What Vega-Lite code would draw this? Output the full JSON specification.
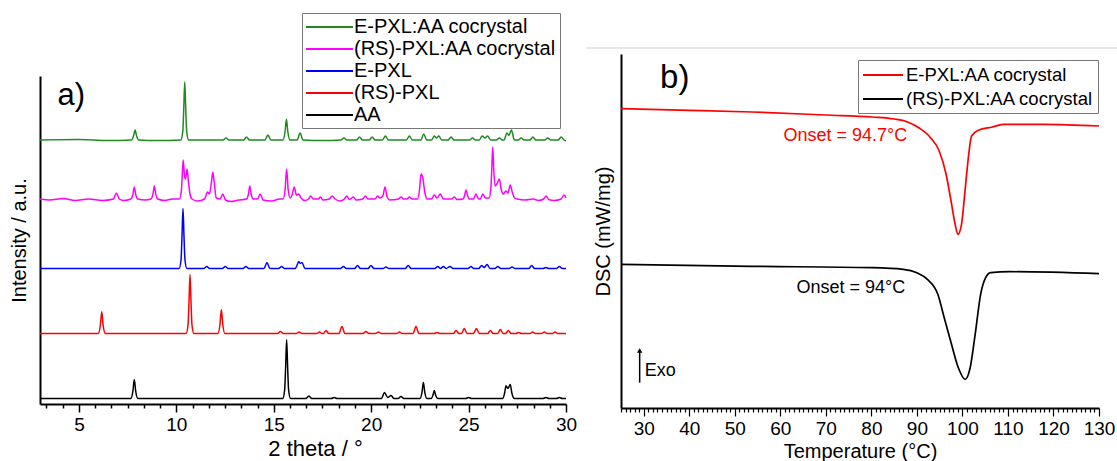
{
"$schema": "https://vega.github.io/schema/vega-lite/v6.json",
"background": "white",
"padding": {"left": 9, "top": 12, "right": 2, "bottom": 2},
"config": {"font": "Liberation Sans", "view": {"stroke": null}},
"datasets": {
"xrd": [
{"s":"AA","x":3,"y":5.5},{"s":"AA","x":7.66,"y":5.5},{"s":"AA","x":7.77,"y":13.1},{"s":"AA","x":7.84,"y":24.5},{"s":"AA","x":7.91,"y":13.1},{"s":"AA","x":8.02,"y":5.5},
{"s":"AA","x":15.46,"y":5.5},{"s":"AA","x":15.56,"y":14.3},{"s":"AA","x":15.61,"y":37.8},{"s":"AA","x":15.66,"y":64.2},{"s":"AA","x":15.71,"y":37.8},{"s":"AA","x":15.76,"y":14.3},{"s":"AA","x":15.86,"y":5.5},
{"s":"AA","x":16.65,"y":5.5},{"s":"AA","x":16.8,"y":8},{"s":"AA","x":16.95,"y":5.5},
{"s":"AA","x":17.95,"y":5.5},{"s":"AA","x":18.1,"y":6.5},{"s":"AA","x":18.25,"y":5.5},
{"s":"AA","x":20.53,"y":5.5},{"s":"AA","x":20.68,"y":11.5},{"s":"AA","x":20.85,"y":6.5},{"s":"AA","x":21.02,"y":8.5},{"s":"AA","x":21.17,"y":5.5},
{"s":"AA","x":21.38,"y":5.5},{"s":"AA","x":21.53,"y":7.5},{"s":"AA","x":21.68,"y":5.5},
{"s":"AA","x":22.5,"y":5.5},{"s":"AA","x":22.61,"y":11.9},{"s":"AA","x":22.68,"y":21.5},{"s":"AA","x":22.75,"y":11.9},{"s":"AA","x":22.86,"y":5.5},
{"s":"AA","x":23.08,"y":5.5},{"s":"AA","x":23.17,"y":8.7},{"s":"AA","x":23.24,"y":13.5},{"s":"AA","x":23.31,"y":8.7},{"s":"AA","x":23.42,"y":5.5},
{"s":"AA","x":24.85,"y":5.5},{"s":"AA","x":25,"y":6.5},{"s":"AA","x":25.15,"y":5.5},
{"s":"AA","x":26.75,"y":5.5},{"s":"AA","x":26.85,"y":11},{"s":"AA","x":26.92,"y":18.2},{"s":"AA","x":27.02,"y":15.5},{"s":"AA","x":27.14,"y":19.5},{"s":"AA","x":27.22,"y":11},{"s":"AA","x":27.35,"y":5.5},
{"s":"AA","x":28.82,"y":5.5},{"s":"AA","x":28.97,"y":6.5},{"s":"AA","x":29.12,"y":5.5},
{"s":"AA","x":29.51,"y":5.5},{"s":"AA","x":29.66,"y":6.5},{"s":"AA","x":29.81,"y":5.5},{"s":"AA","x":30,"y":5.5},

{"s":"(RS)-PXL","x":3,"y":70.5},
{"s":"(RS)-PXL","x":5.99,"y":70.5},{"s":"(RS)-PXL","x":6.1,"y":79.2},{"s":"(RS)-PXL","x":6.17,"y":92.2},{"s":"(RS)-PXL","x":6.24,"y":79.2},{"s":"(RS)-PXL","x":6.35,"y":70.5},
{"s":"(RS)-PXL","x":10.5,"y":70.5},{"s":"(RS)-PXL","x":10.6,"y":79.4},{"s":"(RS)-PXL","x":10.65,"y":103},{"s":"(RS)-PXL","x":10.7,"y":129.5},{"s":"(RS)-PXL","x":10.75,"y":103},{"s":"(RS)-PXL","x":10.8,"y":79.4},{"s":"(RS)-PXL","x":10.9,"y":70.5},
{"s":"(RS)-PXL","x":12.13,"y":70.5},{"s":"(RS)-PXL","x":12.24,"y":80},{"s":"(RS)-PXL","x":12.31,"y":94.2},{"s":"(RS)-PXL","x":12.38,"y":80},{"s":"(RS)-PXL","x":12.49,"y":70.5},
{"s":"(RS)-PXL","x":15.19,"y":70.5},{"s":"(RS)-PXL","x":15.34,"y":72.5},{"s":"(RS)-PXL","x":15.49,"y":70.5},
{"s":"(RS)-PXL","x":16.15,"y":70.5},{"s":"(RS)-PXL","x":16.3,"y":72},{"s":"(RS)-PXL","x":16.45,"y":70.5},
{"s":"(RS)-PXL","x":17.2,"y":70.5},{"s":"(RS)-PXL","x":17.34,"y":72},{"s":"(RS)-PXL","x":17.48,"y":70.5},
{"s":"(RS)-PXL","x":17.55,"y":70.5},{"s":"(RS)-PXL","x":17.68,"y":73.5},{"s":"(RS)-PXL","x":17.82,"y":70.5},
{"s":"(RS)-PXL","x":18.35,"y":70.5},{"s":"(RS)-PXL","x":18.5,"y":77.5},{"s":"(RS)-PXL","x":18.65,"y":70.5},
{"s":"(RS)-PXL","x":19.58,"y":70.5},{"s":"(RS)-PXL","x":19.73,"y":72.5},{"s":"(RS)-PXL","x":19.88,"y":70.5},
{"s":"(RS)-PXL","x":20.22,"y":70.5},{"s":"(RS)-PXL","x":20.37,"y":72},{"s":"(RS)-PXL","x":20.52,"y":70.5},
{"s":"(RS)-PXL","x":21.3,"y":70.5},{"s":"(RS)-PXL","x":21.45,"y":72},{"s":"(RS)-PXL","x":21.6,"y":70.5},
{"s":"(RS)-PXL","x":22.15,"y":70.5},{"s":"(RS)-PXL","x":22.3,"y":77.5},{"s":"(RS)-PXL","x":22.45,"y":70.5},
{"s":"(RS)-PXL","x":23.23,"y":70.5},{"s":"(RS)-PXL","x":23.38,"y":71.5},{"s":"(RS)-PXL","x":23.53,"y":70.5},
{"s":"(RS)-PXL","x":24.22,"y":70.5},{"s":"(RS)-PXL","x":24.36,"y":73.5},{"s":"(RS)-PXL","x":24.5,"y":70.5},
{"s":"(RS)-PXL","x":24.64,"y":70.5},{"s":"(RS)-PXL","x":24.78,"y":75.5},{"s":"(RS)-PXL","x":24.92,"y":70.5},
{"s":"(RS)-PXL","x":25.25,"y":70.5},{"s":"(RS)-PXL","x":25.4,"y":75.5},{"s":"(RS)-PXL","x":25.55,"y":70.5},
{"s":"(RS)-PXL","x":25.98,"y":70.5},{"s":"(RS)-PXL","x":26.12,"y":73.5},{"s":"(RS)-PXL","x":26.26,"y":70.5},
{"s":"(RS)-PXL","x":26.49,"y":70.5},{"s":"(RS)-PXL","x":26.63,"y":74.5},{"s":"(RS)-PXL","x":26.77,"y":70.5},
{"s":"(RS)-PXL","x":26.9,"y":70.5},{"s":"(RS)-PXL","x":27.04,"y":73.5},{"s":"(RS)-PXL","x":27.18,"y":70.5},
{"s":"(RS)-PXL","x":27.43,"y":70.5},{"s":"(RS)-PXL","x":27.57,"y":71.5},{"s":"(RS)-PXL","x":27.71,"y":70.5},
{"s":"(RS)-PXL","x":28.15,"y":70.5},{"s":"(RS)-PXL","x":28.29,"y":72},{"s":"(RS)-PXL","x":28.43,"y":70.5},
{"s":"(RS)-PXL","x":28.75,"y":70.5},{"s":"(RS)-PXL","x":28.89,"y":72},{"s":"(RS)-PXL","x":29.03,"y":70.5},
{"s":"(RS)-PXL","x":29.3,"y":70.5},{"s":"(RS)-PXL","x":29.44,"y":72},{"s":"(RS)-PXL","x":29.58,"y":70.5},{"s":"(RS)-PXL","x":30,"y":70.5},

{"s":"E-PXL","x":3,"y":135.5},
{"s":"E-PXL","x":10.14,"y":135.5},{"s":"E-PXL","x":10.24,"y":144.5},{"s":"E-PXL","x":10.29,"y":168.5},{"s":"E-PXL","x":10.34,"y":195.5},{"s":"E-PXL","x":10.39,"y":168.5},{"s":"E-PXL","x":10.44,"y":144.5},{"s":"E-PXL","x":10.54,"y":135.5},
{"s":"E-PXL","x":11.41,"y":135.5},{"s":"E-PXL","x":11.56,"y":137.5},{"s":"E-PXL","x":11.71,"y":135.5},
{"s":"E-PXL","x":12.36,"y":135.5},{"s":"E-PXL","x":12.51,"y":137.5},{"s":"E-PXL","x":12.66,"y":135.5},
{"s":"E-PXL","x":13.42,"y":135.5},{"s":"E-PXL","x":13.57,"y":137.5},{"s":"E-PXL","x":13.72,"y":135.5},
{"s":"E-PXL","x":14.5,"y":135.5},{"s":"E-PXL","x":14.65,"y":141.5},{"s":"E-PXL","x":14.8,"y":135.5},
{"s":"E-PXL","x":15.25,"y":135.5},{"s":"E-PXL","x":15.4,"y":137.5},{"s":"E-PXL","x":15.55,"y":135.5},
{"s":"E-PXL","x":16.1,"y":135.5},{"s":"E-PXL","x":16.2,"y":139},{"s":"E-PXL","x":16.28,"y":142.5},{"s":"E-PXL","x":16.36,"y":140.5},{"s":"E-PXL","x":16.45,"y":141.5},{"s":"E-PXL","x":16.6,"y":135.5},
{"s":"E-PXL","x":18.42,"y":135.5},{"s":"E-PXL","x":18.57,"y":137.5},{"s":"E-PXL","x":18.72,"y":135.5},
{"s":"E-PXL","x":19.15,"y":135.5},{"s":"E-PXL","x":19.3,"y":138.5},{"s":"E-PXL","x":19.45,"y":135.5},
{"s":"E-PXL","x":19.84,"y":135.5},{"s":"E-PXL","x":19.99,"y":138.5},{"s":"E-PXL","x":20.14,"y":135.5},
{"s":"E-PXL","x":20.61,"y":135.5},{"s":"E-PXL","x":20.76,"y":137},{"s":"E-PXL","x":20.91,"y":135.5},
{"s":"E-PXL","x":21.75,"y":135.5},{"s":"E-PXL","x":21.9,"y":138.5},{"s":"E-PXL","x":22.05,"y":135.5},
{"s":"E-PXL","x":23.27,"y":135.5},{"s":"E-PXL","x":23.42,"y":137.5},{"s":"E-PXL","x":23.56,"y":135.5},{"s":"E-PXL","x":23.7,"y":137.5},{"s":"E-PXL","x":23.85,"y":135.5},{"s":"E-PXL","x":24.05,"y":137.5},{"s":"E-PXL","x":24.2,"y":135.5},
{"s":"E-PXL","x":24.97,"y":135.5},{"s":"E-PXL","x":25.12,"y":137.5},{"s":"E-PXL","x":25.27,"y":135.5},
{"s":"E-PXL","x":25.52,"y":135.5},{"s":"E-PXL","x":25.67,"y":138.5},{"s":"E-PXL","x":25.8,"y":136.5},{"s":"E-PXL","x":25.95,"y":139.5},{"s":"E-PXL","x":26.1,"y":135.5},
{"s":"E-PXL","x":26.35,"y":135.5},{"s":"E-PXL","x":26.5,"y":137.5},{"s":"E-PXL","x":26.65,"y":135.5},
{"s":"E-PXL","x":27.08,"y":135.5},{"s":"E-PXL","x":27.23,"y":137},{"s":"E-PXL","x":27.38,"y":135.5},
{"s":"E-PXL","x":28.09,"y":135.5},{"s":"E-PXL","x":28.24,"y":138.5},{"s":"E-PXL","x":28.39,"y":135.5},
{"s":"E-PXL","x":28.82,"y":135.5},{"s":"E-PXL","x":28.97,"y":136.5},{"s":"E-PXL","x":29.12,"y":135.5},
{"s":"E-PXL","x":29.51,"y":135.5},{"s":"E-PXL","x":29.66,"y":137.5},{"s":"E-PXL","x":29.81,"y":135.5},{"s":"E-PXL","x":30,"y":135.5},

{"s":"(RS)-PXL:AA cocrystal","x":3,"y":205},{"s":"(RS)-PXL:AA cocrystal","x":3.5,"y":204},{"s":"(RS)-PXL:AA cocrystal","x":4.2,"y":205.5},{"s":"(RS)-PXL:AA cocrystal","x":4.8,"y":203.5},{"s":"(RS)-PXL:AA cocrystal","x":5.5,"y":205},{"s":"(RS)-PXL:AA cocrystal","x":6.2,"y":203.5},
{"s":"(RS)-PXL:AA cocrystal","x":6.77,"y":205},{"s":"(RS)-PXL:AA cocrystal","x":6.92,"y":211},{"s":"(RS)-PXL:AA cocrystal","x":7.07,"y":205},{"s":"(RS)-PXL:AA cocrystal","x":7.3,"y":203.5},
{"s":"(RS)-PXL:AA cocrystal","x":7.66,"y":205},{"s":"(RS)-PXL:AA cocrystal","x":7.77,"y":209.8},{"s":"(RS)-PXL:AA cocrystal","x":7.84,"y":217},{"s":"(RS)-PXL:AA cocrystal","x":7.91,"y":209.8},{"s":"(RS)-PXL:AA cocrystal","x":8.02,"y":205},{"s":"(RS)-PXL:AA cocrystal","x":8.4,"y":204},
{"s":"(RS)-PXL:AA cocrystal","x":8.69,"y":205},{"s":"(RS)-PXL:AA cocrystal","x":8.8,"y":210.2},{"s":"(RS)-PXL:AA cocrystal","x":8.87,"y":218},{"s":"(RS)-PXL:AA cocrystal","x":8.94,"y":210.2},{"s":"(RS)-PXL:AA cocrystal","x":9.05,"y":205},{"s":"(RS)-PXL:AA cocrystal","x":9.4,"y":203.5},{"s":"(RS)-PXL:AA cocrystal","x":9.8,"y":205},
{"s":"(RS)-PXL:AA cocrystal","x":10.15,"y":205},{"s":"(RS)-PXL:AA cocrystal","x":10.25,"y":212},{"s":"(RS)-PXL:AA cocrystal","x":10.3,"y":228},{"s":"(RS)-PXL:AA cocrystal","x":10.35,"y":244},{"s":"(RS)-PXL:AA cocrystal","x":10.42,"y":228},{"s":"(RS)-PXL:AA cocrystal","x":10.47,"y":225},{"s":"(RS)-PXL:AA cocrystal","x":10.55,"y":235},{"s":"(RS)-PXL:AA cocrystal","x":10.62,"y":222},{"s":"(RS)-PXL:AA cocrystal","x":10.7,"y":210},{"s":"(RS)-PXL:AA cocrystal","x":10.8,"y":205},{"s":"(RS)-PXL:AA cocrystal","x":11.1,"y":203},
{"s":"(RS)-PXL:AA cocrystal","x":11.45,"y":205},{"s":"(RS)-PXL:AA cocrystal","x":11.6,"y":212},{"s":"(RS)-PXL:AA cocrystal","x":11.7,"y":210},{"s":"(RS)-PXL:AA cocrystal","x":11.8,"y":222},{"s":"(RS)-PXL:AA cocrystal","x":11.87,"y":231.7},{"s":"(RS)-PXL:AA cocrystal","x":11.94,"y":222},{"s":"(RS)-PXL:AA cocrystal","x":12.05,"y":206},
{"s":"(RS)-PXL:AA cocrystal","x":12.25,"y":205},{"s":"(RS)-PXL:AA cocrystal","x":12.38,"y":210},{"s":"(RS)-PXL:AA cocrystal","x":12.52,"y":204},{"s":"(RS)-PXL:AA cocrystal","x":12.8,"y":202.5},{"s":"(RS)-PXL:AA cocrystal","x":13.2,"y":204},
{"s":"(RS)-PXL:AA cocrystal","x":13.6,"y":205},{"s":"(RS)-PXL:AA cocrystal","x":13.7,"y":210},{"s":"(RS)-PXL:AA cocrystal","x":13.77,"y":218},{"s":"(RS)-PXL:AA cocrystal","x":13.84,"y":210},{"s":"(RS)-PXL:AA cocrystal","x":13.95,"y":205},
{"s":"(RS)-PXL:AA cocrystal","x":14.17,"y":205},{"s":"(RS)-PXL:AA cocrystal","x":14.3,"y":210},{"s":"(RS)-PXL:AA cocrystal","x":14.45,"y":204},{"s":"(RS)-PXL:AA cocrystal","x":14.9,"y":203},{"s":"(RS)-PXL:AA cocrystal","x":15.3,"y":205},
{"s":"(RS)-PXL:AA cocrystal","x":15.48,"y":205},{"s":"(RS)-PXL:AA cocrystal","x":15.58,"y":214},{"s":"(RS)-PXL:AA cocrystal","x":15.66,"y":235},{"s":"(RS)-PXL:AA cocrystal","x":15.74,"y":214},{"s":"(RS)-PXL:AA cocrystal","x":15.84,"y":206},
{"s":"(RS)-PXL:AA cocrystal","x":15.94,"y":209},{"s":"(RS)-PXL:AA cocrystal","x":16.05,"y":217},{"s":"(RS)-PXL:AA cocrystal","x":16.16,"y":209},{"s":"(RS)-PXL:AA cocrystal","x":16.28,"y":210},{"s":"(RS)-PXL:AA cocrystal","x":16.4,"y":206},{"s":"(RS)-PXL:AA cocrystal","x":16.6,"y":203.5},
{"s":"(RS)-PXL:AA cocrystal","x":16.78,"y":205},{"s":"(RS)-PXL:AA cocrystal","x":16.9,"y":208},{"s":"(RS)-PXL:AA cocrystal","x":17.02,"y":205},
{"s":"(RS)-PXL:AA cocrystal","x":17.28,"y":205},{"s":"(RS)-PXL:AA cocrystal","x":17.4,"y":207},{"s":"(RS)-PXL:AA cocrystal","x":17.52,"y":204},
{"s":"(RS)-PXL:AA cocrystal","x":17.85,"y":205},{"s":"(RS)-PXL:AA cocrystal","x":18,"y":208},{"s":"(RS)-PXL:AA cocrystal","x":18.15,"y":205},{"s":"(RS)-PXL:AA cocrystal","x":18.4,"y":203},
{"s":"(RS)-PXL:AA cocrystal","x":18.62,"y":205},{"s":"(RS)-PXL:AA cocrystal","x":18.75,"y":208},{"s":"(RS)-PXL:AA cocrystal","x":18.88,"y":204.5},{"s":"(RS)-PXL:AA cocrystal","x":19.1,"y":207},{"s":"(RS)-PXL:AA cocrystal","x":19.22,"y":204},
{"s":"(RS)-PXL:AA cocrystal","x":19.57,"y":205},{"s":"(RS)-PXL:AA cocrystal","x":19.7,"y":208},{"s":"(RS)-PXL:AA cocrystal","x":19.83,"y":205},
{"s":"(RS)-PXL:AA cocrystal","x":20.2,"y":205},{"s":"(RS)-PXL:AA cocrystal","x":20.33,"y":208},{"s":"(RS)-PXL:AA cocrystal","x":20.45,"y":206},{"s":"(RS)-PXL:AA cocrystal","x":20.6,"y":208},{"s":"(RS)-PXL:AA cocrystal","x":20.71,"y":217},{"s":"(RS)-PXL:AA cocrystal","x":20.82,"y":207},{"s":"(RS)-PXL:AA cocrystal","x":20.95,"y":204},
{"s":"(RS)-PXL:AA cocrystal","x":21.4,"y":205},{"s":"(RS)-PXL:AA cocrystal","x":21.53,"y":207},{"s":"(RS)-PXL:AA cocrystal","x":21.66,"y":205},
{"s":"(RS)-PXL:AA cocrystal","x":21.84,"y":205},{"s":"(RS)-PXL:AA cocrystal","x":21.96,"y":207},{"s":"(RS)-PXL:AA cocrystal","x":22.1,"y":205},
{"s":"(RS)-PXL:AA cocrystal","x":22.38,"y":205},{"s":"(RS)-PXL:AA cocrystal","x":22.48,"y":214},{"s":"(RS)-PXL:AA cocrystal","x":22.56,"y":230},{"s":"(RS)-PXL:AA cocrystal","x":22.65,"y":226},{"s":"(RS)-PXL:AA cocrystal","x":22.75,"y":212},{"s":"(RS)-PXL:AA cocrystal","x":22.88,"y":205},
{"s":"(RS)-PXL:AA cocrystal","x":23.1,"y":205},{"s":"(RS)-PXL:AA cocrystal","x":23.24,"y":209},{"s":"(RS)-PXL:AA cocrystal","x":23.38,"y":206},{"s":"(RS)-PXL:AA cocrystal","x":23.55,"y":210},{"s":"(RS)-PXL:AA cocrystal","x":23.7,"y":205},
{"s":"(RS)-PXL:AA cocrystal","x":24.13,"y":205},{"s":"(RS)-PXL:AA cocrystal","x":24.27,"y":207},{"s":"(RS)-PXL:AA cocrystal","x":24.41,"y":204.5},
{"s":"(RS)-PXL:AA cocrystal","x":24.72,"y":205},{"s":"(RS)-PXL:AA cocrystal","x":24.8,"y":209},{"s":"(RS)-PXL:AA cocrystal","x":24.87,"y":214},{"s":"(RS)-PXL:AA cocrystal","x":24.94,"y":209},{"s":"(RS)-PXL:AA cocrystal","x":25.04,"y":205},
{"s":"(RS)-PXL:AA cocrystal","x":25.25,"y":205},{"s":"(RS)-PXL:AA cocrystal","x":25.38,"y":210},{"s":"(RS)-PXL:AA cocrystal","x":25.51,"y":205},
{"s":"(RS)-PXL:AA cocrystal","x":25.6,"y":205},{"s":"(RS)-PXL:AA cocrystal","x":25.73,"y":210},{"s":"(RS)-PXL:AA cocrystal","x":25.86,"y":206},
{"s":"(RS)-PXL:AA cocrystal","x":26.05,"y":206},{"s":"(RS)-PXL:AA cocrystal","x":26.14,"y":215},{"s":"(RS)-PXL:AA cocrystal","x":26.19,"y":235},{"s":"(RS)-PXL:AA cocrystal","x":26.24,"y":257},{"s":"(RS)-PXL:AA cocrystal","x":26.29,"y":235},{"s":"(RS)-PXL:AA cocrystal","x":26.36,"y":218},{"s":"(RS)-PXL:AA cocrystal","x":26.45,"y":220},{"s":"(RS)-PXL:AA cocrystal","x":26.58,"y":225},{"s":"(RS)-PXL:AA cocrystal","x":26.68,"y":214},{"s":"(RS)-PXL:AA cocrystal","x":26.78,"y":210},{"s":"(RS)-PXL:AA cocrystal","x":26.92,"y":213},{"s":"(RS)-PXL:AA cocrystal","x":27.02,"y":211},{"s":"(RS)-PXL:AA cocrystal","x":27.14,"y":219},{"s":"(RS)-PXL:AA cocrystal","x":27.24,"y":212},{"s":"(RS)-PXL:AA cocrystal","x":27.36,"y":206},{"s":"(RS)-PXL:AA cocrystal","x":27.5,"y":205},
{"s":"(RS)-PXL:AA cocrystal","x":27.9,"y":204},{"s":"(RS)-PXL:AA cocrystal","x":28.3,"y":205},{"s":"(RS)-PXL:AA cocrystal","x":28.6,"y":203.5},
{"s":"(RS)-PXL:AA cocrystal","x":28.85,"y":205},{"s":"(RS)-PXL:AA cocrystal","x":28.98,"y":208},{"s":"(RS)-PXL:AA cocrystal","x":29.11,"y":204.5},{"s":"(RS)-PXL:AA cocrystal","x":29.4,"y":203.5},
{"s":"(RS)-PXL:AA cocrystal","x":29.75,"y":205},{"s":"(RS)-PXL:AA cocrystal","x":29.9,"y":209},{"s":"(RS)-PXL:AA cocrystal","x":30,"y":206},

{"s":"E-PXL:AA cocrystal","x":3,"y":264},{"s":"E-PXL:AA cocrystal","x":5,"y":264.5},{"s":"E-PXL:AA cocrystal","x":6.5,"y":263.5},
{"s":"E-PXL:AA cocrystal","x":7.7,"y":264},{"s":"E-PXL:AA cocrystal","x":7.8,"y":268},{"s":"E-PXL:AA cocrystal","x":7.88,"y":274},{"s":"E-PXL:AA cocrystal","x":7.96,"y":268},{"s":"E-PXL:AA cocrystal","x":8.06,"y":264},{"s":"E-PXL:AA cocrystal","x":9,"y":263.5},
{"s":"E-PXL:AA cocrystal","x":10.23,"y":264},{"s":"E-PXL:AA cocrystal","x":10.33,"y":272.7},{"s":"E-PXL:AA cocrystal","x":10.38,"y":295.9},{"s":"E-PXL:AA cocrystal","x":10.43,"y":322},{"s":"E-PXL:AA cocrystal","x":10.48,"y":295.9},{"s":"E-PXL:AA cocrystal","x":10.53,"y":272.7},{"s":"E-PXL:AA cocrystal","x":10.63,"y":264},
{"s":"E-PXL:AA cocrystal","x":12.4,"y":264},{"s":"E-PXL:AA cocrystal","x":12.55,"y":266},{"s":"E-PXL:AA cocrystal","x":12.7,"y":264},
{"s":"E-PXL:AA cocrystal","x":13.45,"y":264},{"s":"E-PXL:AA cocrystal","x":13.6,"y":267},{"s":"E-PXL:AA cocrystal","x":13.75,"y":264},
{"s":"E-PXL:AA cocrystal","x":14.55,"y":264},{"s":"E-PXL:AA cocrystal","x":14.7,"y":269},{"s":"E-PXL:AA cocrystal","x":14.85,"y":264},
{"s":"E-PXL:AA cocrystal","x":15.47,"y":264},{"s":"E-PXL:AA cocrystal","x":15.58,"y":272.3},{"s":"E-PXL:AA cocrystal","x":15.65,"y":284.7},{"s":"E-PXL:AA cocrystal","x":15.72,"y":272.3},{"s":"E-PXL:AA cocrystal","x":15.83,"y":264},
{"s":"E-PXL:AA cocrystal","x":16.2,"y":264},{"s":"E-PXL:AA cocrystal","x":16.35,"y":271},{"s":"E-PXL:AA cocrystal","x":16.5,"y":264},{"s":"E-PXL:AA cocrystal","x":17.5,"y":263.5},
{"s":"E-PXL:AA cocrystal","x":18.45,"y":264},{"s":"E-PXL:AA cocrystal","x":18.6,"y":266},{"s":"E-PXL:AA cocrystal","x":18.75,"y":264},
{"s":"E-PXL:AA cocrystal","x":19.25,"y":264},{"s":"E-PXL:AA cocrystal","x":19.4,"y":267},{"s":"E-PXL:AA cocrystal","x":19.55,"y":264},
{"s":"E-PXL:AA cocrystal","x":19.9,"y":264},{"s":"E-PXL:AA cocrystal","x":20.05,"y":267},{"s":"E-PXL:AA cocrystal","x":20.2,"y":264},
{"s":"E-PXL:AA cocrystal","x":20.58,"y":264},{"s":"E-PXL:AA cocrystal","x":20.73,"y":268},{"s":"E-PXL:AA cocrystal","x":20.88,"y":264},
{"s":"E-PXL:AA cocrystal","x":21.81,"y":264},{"s":"E-PXL:AA cocrystal","x":21.96,"y":268},{"s":"E-PXL:AA cocrystal","x":22.11,"y":264},
{"s":"E-PXL:AA cocrystal","x":22.55,"y":264},{"s":"E-PXL:AA cocrystal","x":22.7,"y":270},{"s":"E-PXL:AA cocrystal","x":22.85,"y":264},
{"s":"E-PXL:AA cocrystal","x":23.1,"y":264},{"s":"E-PXL:AA cocrystal","x":23.24,"y":268},{"s":"E-PXL:AA cocrystal","x":23.35,"y":266},{"s":"E-PXL:AA cocrystal","x":23.47,"y":268},{"s":"E-PXL:AA cocrystal","x":23.62,"y":264},
{"s":"E-PXL:AA cocrystal","x":23.95,"y":264},{"s":"E-PXL:AA cocrystal","x":24.1,"y":267},{"s":"E-PXL:AA cocrystal","x":24.25,"y":264},
{"s":"E-PXL:AA cocrystal","x":25.05,"y":264},{"s":"E-PXL:AA cocrystal","x":25.2,"y":266},{"s":"E-PXL:AA cocrystal","x":25.35,"y":264},
{"s":"E-PXL:AA cocrystal","x":25.55,"y":264},{"s":"E-PXL:AA cocrystal","x":25.7,"y":268},{"s":"E-PXL:AA cocrystal","x":25.84,"y":266},{"s":"E-PXL:AA cocrystal","x":25.98,"y":268},{"s":"E-PXL:AA cocrystal","x":26.13,"y":264},
{"s":"E-PXL:AA cocrystal","x":26.43,"y":264},{"s":"E-PXL:AA cocrystal","x":26.58,"y":266},{"s":"E-PXL:AA cocrystal","x":26.73,"y":264},
{"s":"E-PXL:AA cocrystal","x":26.82,"y":264},{"s":"E-PXL:AA cocrystal","x":26.97,"y":271},{"s":"E-PXL:AA cocrystal","x":27.07,"y":268.5},{"s":"E-PXL:AA cocrystal","x":27.2,"y":274},{"s":"E-PXL:AA cocrystal","x":27.35,"y":264},
{"s":"E-PXL:AA cocrystal","x":27.55,"y":264},{"s":"E-PXL:AA cocrystal","x":27.7,"y":266},{"s":"E-PXL:AA cocrystal","x":27.85,"y":264},
{"s":"E-PXL:AA cocrystal","x":28.15,"y":264},{"s":"E-PXL:AA cocrystal","x":28.3,"y":267},{"s":"E-PXL:AA cocrystal","x":28.45,"y":264},
{"s":"E-PXL:AA cocrystal","x":28.91,"y":264},{"s":"E-PXL:AA cocrystal","x":29.06,"y":266},{"s":"E-PXL:AA cocrystal","x":29.21,"y":264},
{"s":"E-PXL:AA cocrystal","x":29.6,"y":264},{"s":"E-PXL:AA cocrystal","x":29.75,"y":267},{"s":"E-PXL:AA cocrystal","x":29.9,"y":264},{"s":"E-PXL:AA cocrystal","x":30,"y":263}
],
"dsc": [
{"s":"E-PXL:AA cocrystal","t":25,"v":299.3},{"s":"E-PXL:AA cocrystal","t":40,"v":297.7},{"s":"E-PXL:AA cocrystal","t":53.8,"v":296},{"s":"E-PXL:AA cocrystal","t":70,"v":293},{"s":"E-PXL:AA cocrystal","t":80.2,"v":291},{"s":"E-PXL:AA cocrystal","t":85,"v":289},{"s":"E-PXL:AA cocrystal","t":87.8,"v":286.3},{"s":"E-PXL:AA cocrystal","t":90.4,"v":280.3},{"s":"E-PXL:AA cocrystal","t":93,"v":270.3},{"s":"E-PXL:AA cocrystal","t":94.9,"v":257},{"s":"E-PXL:AA cocrystal","t":96.4,"v":234},{"s":"E-PXL:AA cocrystal","t":97.5,"v":207},{"s":"E-PXL:AA cocrystal","t":98.4,"v":183.7},{"s":"E-PXL:AA cocrystal","t":99,"v":173.7},{"s":"E-PXL:AA cocrystal","t":99.8,"v":183.7},{"s":"E-PXL:AA cocrystal","t":100.5,"v":213.7},{"s":"E-PXL:AA cocrystal","t":101.3,"v":250.3},{"s":"E-PXL:AA cocrystal","t":102,"v":272},{"s":"E-PXL:AA cocrystal","t":103.5,"v":277.7},{"s":"E-PXL:AA cocrystal","t":106.6,"v":281},{"s":"E-PXL:AA cocrystal","t":108.9,"v":283.7},{"s":"E-PXL:AA cocrystal","t":117.9,"v":283.7},{"s":"E-PXL:AA cocrystal","t":130,"v":282},
{"s":"(RS)-PXL:AA cocrystal","t":25,"v":143.7},{"s":"(RS)-PXL:AA cocrystal","t":53.8,"v":141.7},{"s":"(RS)-PXL:AA cocrystal","t":80.2,"v":140.3},{"s":"(RS)-PXL:AA cocrystal","t":87,"v":138.7},{"s":"(RS)-PXL:AA cocrystal","t":90,"v":135.3},{"s":"(RS)-PXL:AA cocrystal","t":92.3,"v":128.7},{"s":"(RS)-PXL:AA cocrystal","t":94.6,"v":113.7},{"s":"(RS)-PXL:AA cocrystal","t":96,"v":90.3},{"s":"(RS)-PXL:AA cocrystal","t":97.6,"v":63.7},{"s":"(RS)-PXL:AA cocrystal","t":99.1,"v":40.3},{"s":"(RS)-PXL:AA cocrystal","t":100.6,"v":28.7},{"s":"(RS)-PXL:AA cocrystal","t":101.7,"v":40.3},{"s":"(RS)-PXL:AA cocrystal","t":102.8,"v":73.7},{"s":"(RS)-PXL:AA cocrystal","t":104,"v":113.7},{"s":"(RS)-PXL:AA cocrystal","t":105.1,"v":130.3},{"s":"(RS)-PXL:AA cocrystal","t":106.2,"v":135.3},{"s":"(RS)-PXL:AA cocrystal","t":110.4,"v":136.3},{"s":"(RS)-PXL:AA cocrystal","t":130,"v":134.3}
]
},
"hconcat": [
{
"width": 526, "height": 354,
"layer": [
{"data": {"name": "xrd"},
 "mark": {"type": "line", "strokeWidth": 1.5, "interpolate": "monotone"},
 "encoding": {
  "x": {"field": "x", "type": "quantitative",
   "scale": {"domain": [3, 30], "nice": false, "zero": false},
   "axis": {"title": "2 theta / °", "grid": false, "offset": -4, "tickCount": 400,
    "values": [3.3333,4.1667,5,5.8333,6.6667,7.5,8.3333,9.1667,10,10.8333,11.6667,12.5,13.3333,14.1667,15,15.8333,16.6667,17.5,18.3333,19.1667,20,20.8333,21.6667,22.5,23.3333,24.1667,25,25.8333,26.6667,27.5,28.3333,29.1667,30],
    "labelExpr": "abs(datum.value/5 - round(datum.value/5)) < 0.001 ? format(datum.value, 'd') : ''",
    "tickSize": {"condition": {"test": "abs(datum.value/5 - round(datum.value/5)) < 0.001", "value": 8}, "value": 4},
    "tickColor": "black", "tickWidth": 1.5, "domainColor": "black", "domainWidth": 2,
    "labelFontSize": 19, "labelColor": "black", "labelPadding": 3, "labelFlush": false, "labelOverlap": false,
    "titleFontSize": 22, "titleFontWeight": "normal", "titleColor": "black", "titlePadding": 4,
    "titleX": 275, "titleAlign": "center"}},
  "y": {"field": "y", "type": "quantitative",
   "scale": {"domain": [0, 328], "range": [350, 22], "nice": false, "zero": false},
   "axis": {"title": "Intensity / a.u.", "grid": false, "ticks": false, "labels": false,
    "domainColor": "black", "domainWidth": 2,
    "titleFontSize": 20, "titleFontWeight": "normal", "titleColor": "black", "titlePadding": 11}},
  "color": {"field": "s", "type": "nominal",
   "scale": {"domain": ["E-PXL:AA cocrystal", "(RS)-PXL:AA cocrystal", "E-PXL", "(RS)-PXL", "AA"],
             "range": ["#1f8a1f", "#ff00ff", "#0000ff", "#ff0000", "#000000"]},
   "legend": {"title": null, "orient": "none", "legendX": 262, "legendY": -41,
    "symbolType": "M-1,0H3.7", "symbolSize": 400, "symbolStrokeWidth": 2,
    "labelFontSize": 20, "labelColor": "black", "labelLimit": 400, "labelOffset": 27,
    "strokeColor": "#777777", "fillColor": "white", "padding": 3, "rowPadding": 1}}
 }},
{"data": {"values": [{}]},
 "mark": {"type": "text", "fontSize": 31, "align": "center", "baseline": "middle", "color": "black"},
 "encoding": {"x": {"datum": 4.6}, "y": {"datum": 308}, "text": {"value": "a)"}}}
]
},
{
"width": 478, "height": 354,
"layer": [
{"data": {"values": [{}]},
 "mark": {"type": "rule", "color": "#d0d0d0", "strokeWidth": 1.2, "clip": false},
 "encoding": {"x": {"datum": 17.3}, "x2": {"datum": 134.2}, "y": {"datum": 360}}},
{"data": {"name": "dsc"},
 "mark": {"type": "line", "strokeWidth": 1.7, "interpolate": "monotone"},
 "encoding": {
  "x": {"field": "t", "type": "quantitative",
   "scale": {"domain": [25, 130], "nice": false, "zero": false},
   "axis": {"title": "Temperature (°C)", "grid": false, "tickCount": 400,
    "values": [25,26,27,28,29,30,31,32,33,34,35,36,37,38,39,40,41,42,43,44,45,46,47,48,49,50,51,52,53,54,55,56,57,58,59,60,61,62,63,64,65,66,67,68,69,70,71,72,73,74,75,76,77,78,79,80,81,82,83,84,85,86,87,88,89,90,91,92,93,94,95,96,97,98,99,100,101,102,103,104,105,106,107,108,109,110,111,112,113,114,115,116,117,118,119,120,121,122,123,124,125,126,127,128,129,130],
    "labelExpr": "datum.value % 10 === 0 ? format(datum.value, 'd') : ''",
    "tickSize": {"condition": {"test": "datum.value % 10 === 0", "value": 8}, "value": 4},
    "tickColor": "black", "tickWidth": 1.2, "domainColor": "black", "domainWidth": 2,
    "labelFontSize": 19, "labelColor": "black", "labelPadding": 3, "labelFlush": false, "labelOverlap": false,
    "titleFontSize": 20, "titleFontWeight": "normal", "titleColor": "black", "titlePadding": 3}},
  "y": {"field": "v", "type": "quantitative",
   "scale": {"domain": [0, 354], "nice": false, "zero": false},
   "axis": {"title": "DSC (mW/mg)", "grid": false, "ticks": false, "labels": false,
    "domainColor": "black", "domainWidth": 2,
    "titleFontSize": 20, "titleFontWeight": "normal", "titleColor": "black", "titlePadding": 8}},
  "color": {"field": "s", "type": "nominal",
   "scale": {"domain": ["E-PXL:AA cocrystal", "(RS)-PXL:AA cocrystal"], "range": ["#ff0000", "#000000"]},
   "legend": {"title": null, "orient": "none", "legendX": 237, "legendY": 6,
    "symbolType": "M-1,0H3", "symbolSize": 400, "symbolStrokeWidth": 2,
    "labelFontSize": 18.5, "labelColor": "black", "labelLimit": 400, "labelOffset": 22,
    "strokeColor": "#777777", "fillColor": "white", "padding": 4, "rowPadding": 3}}
 }},
{"data": {"values": [{}]},
 "mark": {"type": "text", "fontSize": 18, "align": "center", "baseline": "middle", "color": "#ff0000"},
 "encoding": {"x": {"datum": 74.3}, "y": {"datum": 272}, "text": {"value": "Onset = 94.7°C"}}},
{"data": {"values": [{}]},
 "mark": {"type": "text", "fontSize": 18, "align": "center", "baseline": "middle", "color": "black"},
 "encoding": {"x": {"datum": 75.5}, "y": {"datum": 120.3}, "text": {"value": "Onset = 94°C"}}},
{"data": {"values": [{}]},
 "mark": {"type": "text", "fontSize": 33, "align": "center", "baseline": "middle", "color": "black"},
 "encoding": {"x": {"datum": 36.8}, "y": {"datum": 330}, "text": {"value": "b)"}}},
{"data": {"values": [{}]},
 "mark": {"type": "rule", "color": "black", "strokeWidth": 1.5},
 "encoding": {"x": {"datum": 29.1}, "y": {"datum": 25.3}, "y2": {"datum": 56}}},
{"data": {"values": [{}]},
 "mark": {"type": "point", "shape": "triangle-up", "filled": true, "color": "black", "size": 30, "opacity": 1},
 "encoding": {"x": {"datum": 29.1}, "y": {"datum": 57.5}}},
{"data": {"values": [{}]},
 "mark": {"type": "text", "fontSize": 18, "align": "left", "baseline": "middle", "color": "black"},
 "encoding": {"x": {"datum": 30.2}, "y": {"datum": 37}, "text": {"value": "Exo"}}}
]
}
],
"spacing": 55,
"bounds": "flush",
"resolve": {"scale": {"color": "independent"}, "legend": {"color": "independent"}}
}
